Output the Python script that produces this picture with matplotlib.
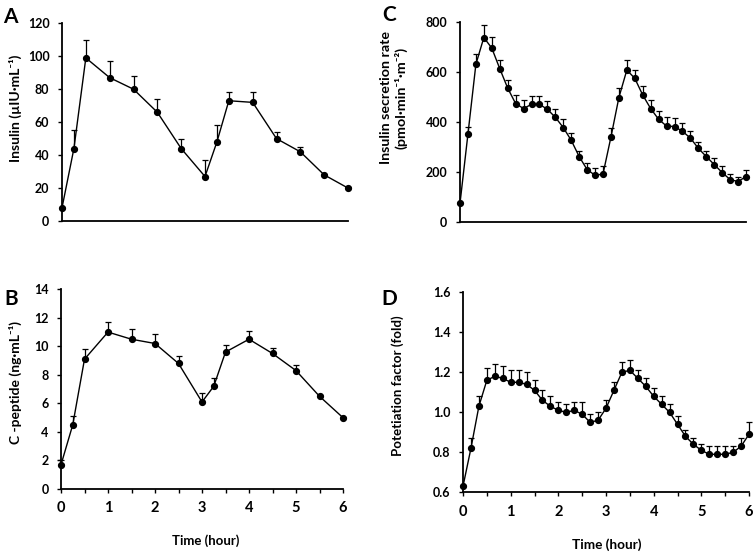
import matplotlib
matplotlib.use("Agg")
import matplotlib.pyplot as plt
import numpy as np

plt.rcParams['font.family'] = ['Lato', 'DejaVu Sans']
plt.rcParams['font.weight'] = 'bold'

# panel A: insulin
t_a = [0, 0.25, 0.5, 1, 1.5, 2, 2.5, 3, 3.25, 3.5, 4, 4.5, 5, 5.5, 6]
ins = [8, 44, 99, 87, 80, 66, 44, 27, 48, 73, 72, 50, 42, 28, 20]
ins_err = [0, 11, 11, 10, 8, 8, 6, 10, 10, 5, 6, 4, 3, 0.5, 0.5]

# panel B: c-peptide
cpep = [1.7, 4.5, 9.1, 11.0, 10.5, 10.2, 8.8, 6.1, 7.2, 9.6, 10.5, 9.5, 8.3, 6.5, 5.0]
cpep_err = [0.3, 0.6, 0.7, 0.7, 0.7, 0.7, 0.5, 0.6, 0.6, 0.5, 0.6, 0.4, 0.4, 0.05, 0.05]

# panels C and D: every 10 min
t_c = [i / 6 for i in range(37)]
isr = [76, 353, 632, 739, 697, 615, 537, 475, 455, 472, 472, 452, 420, 379, 328, 263,
       211, 188, 193, 341, 499, 609, 576, 509, 455, 412, 385, 383, 364, 337, 296, 263,
       231, 199, 171, 163, 183]
isr_err = [0, 27, 41, 49, 43, 35, 32, 34, 34, 32, 33, 33, 35, 36, 31, 24,
           28, 28, 34, 38, 38, 40, 32, 35, 34, 33, 38, 34, 32, 27, 27, 24,
           25, 25, 22, 20, 26]
pot = [0.63, 0.82, 1.03, 1.16, 1.18, 1.17, 1.15, 1.15, 1.14, 1.11, 1.06, 1.03, 1.01,
       1.00, 1.01, 0.99, 0.95, 0.96, 1.02, 1.11, 1.20, 1.21, 1.17, 1.13, 1.08, 1.04,
       1.00, 0.94, 0.88, 0.84, 0.81, 0.79, 0.79, 0.79, 0.80, 0.83, 0.89]
pot_err = [0, 0.05, 0.05, 0.06, 0.06, 0.06, 0.06, 0.06, 0.06, 0.05, 0.05, 0.05, 0.04,
           0.04, 0.04, 0.06, 0.04, 0.04, 0.04, 0.04, 0.05, 0.05, 0.04, 0.04, 0.04, 0.04,
           0.04, 0.04, 0.03, 0.03, 0.03, 0.04, 0.04, 0.04, 0.03, 0.04, 0.06]

W, H = 755, 554
fig = plt.figure(figsize=(W / 100, H / 100), dpi=100)


def box(x0, x1, ytop, ybot):
    return [x0 / W, 1 - ybot / H, (x1 - x0) / W, (ybot - ytop) / H]


def label(s, x, y, size, rot=0):
    fig.text(x / W, 1 - y / H, s, rotation=rot, ha='center', va='center',
             fontsize=size, fontweight='bold', multialignment='center')


def panel(rect, x, y, err, ylim, yticks, fmt, show_x):
    ax = fig.add_axes(rect)
    ax.errorbar(x, y, yerr=[np.zeros(len(err)), err], color='black', lw=1,
                marker='o', ms=4.2, capsize=2.5, elinewidth=0.9, capthick=0.9,
                clip_on=False, zorder=3)
    ax.set_xlim(0, 6)
    ax.set_ylim(*ylim)
    ax.set_yticks(yticks)
    ax.set_yticklabels([fmt.format(v) for v in yticks])
    for s in ['top', 'right']:
        ax.spines[s].set_visible(False)
    ax.spines['left'].set_linewidth(1.3)
    ax.spines['bottom'].set_linewidth(1.3)
    ax.tick_params(axis='y', direction='out', length=3, width=1, labelsize=9, pad=6)
    if show_x:
        xt = np.arange(0, 6.01, 0.5)
        ax.set_xticks(xt)
        ax.set_xticklabels([str(int(v)) if v == int(v) else '' for v in xt])
        ax.tick_params(axis='x', direction='out', length=3, width=1, labelsize=10.5, pad=6)
    else:
        ax.set_xticks([])
    return ax


panel(box(62, 348, 23.3, 221), t_a, ins, ins_err, (0, 120), range(0, 121, 20), '{}', False)
panel(box(61, 343, 289.3, 489), t_a, cpep, cpep_err, (0, 14), range(0, 15, 2), '{}', True)
panel(box(460, 746, 22.3, 222.3), t_c, isr, isr_err, (0, 800), range(0, 801, 200), '{}', False)
panel(box(463, 749, 292.3, 492.3), t_c, pot, pot_err, (0.6, 1.6),
      [0.6, 0.8, 1.0, 1.2, 1.4, 1.6], '{:.1f}', True)

label('Insulin (\u00b5IU\u00b7mL\u207b\u00b9)', 15, 108, 10, 90)
label('C -peptide (ng\u00b7mL\u207b\u00b9)', 15, 383, 10, 90)
label('Insulin secretion rate\n(pmol\u00b7min\u207b\u00b9\u00b7m\u207b\u00b2)', 394, 98, 10.3, 90)
label('Potetiation factor (fold)', 398, 386, 9.6, 90)
label('Time (hour)', 206, 540.5, 9.5)
label('Time (hour)', 606.5, 545, 9.8)

for lab, x, y in [('A', 3, 7), ('B', 4, 289), ('C', 382, 5), ('D', 381, 289)]:
    fig.text(x / W, 1 - y / H, lab, fontsize=15, fontweight='bold', va='top', ha='left')

fig.savefig('out.png', dpi=100)
